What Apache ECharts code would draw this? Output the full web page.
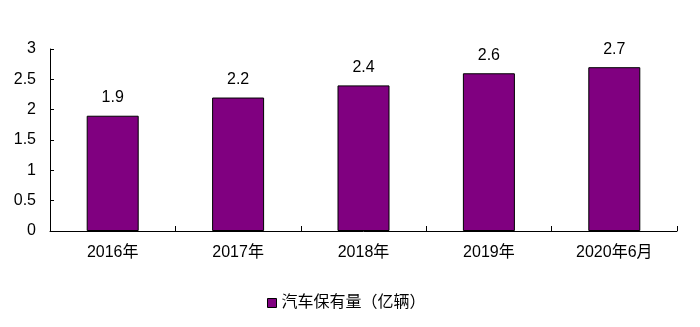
<!DOCTYPE html>
<html>
<head>
<meta charset="utf-8">
<script src="https://cdn.jsdelivr.net/npm/echarts@6/dist/echarts.min.js"></script>
<style>
  html, body { margin: 0; padding: 0; background: #fff; }
  #chart { width: 700px; height: 327px; }
</style>
</head>
<body>
<div id="chart"></div>
<script>
// Car ownership in China (100 million vehicles)
const categories = ['2016年', '2017年', '2018年', '2019年', '2020年6月'];
const ownership = [1.9, 2.2, 2.4, 2.6, 2.7];
const seriesName = '汽车保有量（亿辆）';

const font = '"Liberation Sans", Arial, "Noto Sans CJK SC", sans-serif';

const chart = echarts.init(document.getElementById('chart'));
chart.setOption({
  animation: false,
  textStyle: { fontFamily: font },
  grid: { left: 50, right: 23, top: 49, bottom: 96 },
  legend: {
    bottom: 11,
    left: 262,
    itemWidth: 9,
    itemHeight: 9,
    icon: 'rect',
    itemGap: 5,
    itemStyle: { borderColor: '#000', borderWidth: 1 },
    textStyle: { fontSize: 16, color: '#000', fontFamily: font },
    data: [seriesName]
  },
  xAxis: {
    type: 'category',
    data: categories,
    axisLine: { lineStyle: { color: '#000', width: 1 } },
    axisTick: { show: true, alignWithLabel: false, length: 5, inside: true, lineStyle: { color: '#000' } },
    axisLabel: { color: '#000', fontSize: 16, margin: 14, fontFamily: font }
  },
  yAxis: {
    type: 'value',
    min: 0,
    max: 3,
    interval: 0.5,
    axisLine: { show: true, lineStyle: { color: '#000', width: 1 } },
    axisTick: { show: true, length: 4, inside: true, lineStyle: { color: '#000' } },
    splitLine: { show: false },
    axisLabel: { color: '#000', fontSize: 16, margin: 14, fontFamily: font }
  },
  series: [{
    name: seriesName,
    type: 'bar',
    data: ownership,
    barWidth: 52,
    itemStyle: { color: '#800080', borderColor: '#000', borderWidth: 1 },
    label: {
      show: true,
      position: 'top',
      distance: 10,
      color: '#000',
      fontSize: 16,
      fontFamily: font
    }
  }]
});
</script>
</body>
</html>
